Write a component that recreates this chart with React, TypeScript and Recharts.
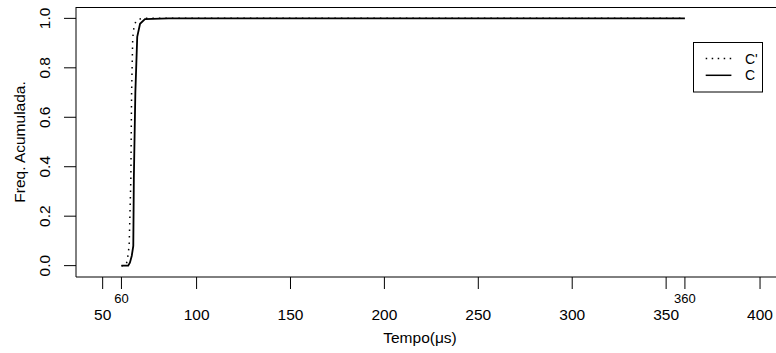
import { LineChart, Line, XAxis, YAxis } from "recharts";

// ECDF of C (solid) and C' (dotted)
const cTime = [60, 63.6, 64.5, 65.5, 66.3, 66.6, 67.4, 68.4, 69.9, 72.5, 85, 360];
const cFreq = [0, 0, 0.012, 0.04, 0.08, 0.35, 0.7, 0.925, 0.978, 0.997, 1, 1];

const cpTime = [60, 62, 62.5, 63.1, 64.1, 65.0, 65.4, 66.0, 66.6, 67.7, 70.7, 360];
const cpFreq = [0, 0, 0.005, 0.02, 0.08, 0.35, 0.7, 0.92, 0.96, 0.99, 1, 1];

const xTicks = [50, 60, 100, 150, 200, 250, 300, 350, 360, 400];
const smallTicks = [60, 360];
const yTicks = [0, 0.2, 0.4, 0.6, 0.8, 1.0];

const xDomain = [35.8, 408.5];
const yDomain = [-0.046, 1.046];

const cData = cTime.map((t, i) => ({ t, f: cFreq[i] }));
const cpData = cpTime.map((t, i) => ({ t, f: cpFreq[i] }));

const font = "'Liberation Sans', Arial, Helvetica, sans-serif";

const XTick = ({ x, y, payload }: any) => {
  const small = smallTicks.includes(payload.value);
  return (
    <text
      x={x}
      y={y + (small ? 12.3 : 29.3)}
      textAnchor="middle"
      fontSize={small ? 13 : 15.5}
      fill="#000"
      fontFamily={font}
    >
      {payload.value}
    </text>
  );
};

const YTick = ({ x, y, payload }: any) => {
  const bx = x - 12;
  return (
    <text
      x={bx}
      y={y}
      transform={`rotate(-90, ${bx}, ${y})`}
      textAnchor="middle"
      fontSize={15.5}
      fill="#000"
      fontFamily={font}
    >
      {payload.value.toFixed(1)}
    </text>
  );
};

// top edge of the plot box (the right edge falls outside the picture)
const FrameTop = () => (
  <svg
    width={776}
    height={12}
    style={{ position: "absolute", left: 0, top: 0, pointerEvents: "none" }}
  >
    <line x1={76} x2={776} y1={7.5} y2={7.5} stroke="#000" strokeWidth={1} />
  </svg>
);

const LegendBox = () => (
  <svg
    width={70}
    height={51}
    style={{ position: "absolute", left: 693, top: 42 }}
  >
    <rect x={0.5} y={0.5} width={69} height={49.5} fill="#fff" stroke="#000" />
    <line x1={12.7} x2={38.4} y1={16.6} y2={16.6} stroke="#000" strokeWidth={1.5} strokeDasharray="1.5 4.5" />
    <line x1={12.7} x2={38.4} y1={33.3} y2={33.3} stroke="#000" strokeWidth={1.5} />
    <text x={52} y={21.6} fontSize={14} fontFamily={font} fill="#000">C'</text>
    <text x={52} y={38.3} fontSize={14} fontFamily={font} fill="#000">C</text>
  </svg>
);

export default function App() {
  return (
    <div style={{ position: "absolute", left: 0, top: 0, width: 776, height: 353, background: "#fff" }}>
      <LineChart
        width={776}
        height={353}
        data={cData}
        margin={{ top: 7, right: 0, bottom: 0, left: 0 }}
      >
        <XAxis
          dataKey="t"
          type="number"
          domain={xDomain}
          allowDataOverflow
          ticks={xTicks}
          interval={0}
          height={76}
          tickSize={12}
          tick={<XTick />}
          axisLine={{ stroke: "#000" }}
          tickLine={{ stroke: "#000" }}
          label={() => (
            <text x={420} y={343} textAnchor="middle" fontSize={15.5} fontFamily={font} fill="#000">
              Tempo(μs)
            </text>
          )}
        />
        <YAxis
          type="number"
          domain={yDomain}
          allowDataOverflow
          ticks={yTicks}
          interval={0}
          width={76}
          tickSize={12}
          tick={<YTick />}
          axisLine={{ stroke: "#000" }}
          tickLine={{ stroke: "#000" }}
          label={() => (
            <text
              x={25}
              y={142}
              transform="rotate(-90, 25, 142)"
              textAnchor="middle"
              fontSize={15.5}
              fontFamily={font}
              fill="#000"
            >
              Freq. Acumulada.
            </text>
          )}
        />
        <Line
          data={cpData}
          dataKey="f"
          name="C'"
          type="linear"
          stroke="#000"
          strokeWidth={1.5}
          strokeDasharray="1.5 5"
          dot={false}
          isAnimationActive={false}
        />
        <Line
          dataKey="f"
          name="C"
          type="linear"
          stroke="#000"
          strokeWidth={1.8}
          dot={false}
          isAnimationActive={false}
        />
      </LineChart>
      <FrameTop />
      <LegendBox />
    </div>
  );
}
